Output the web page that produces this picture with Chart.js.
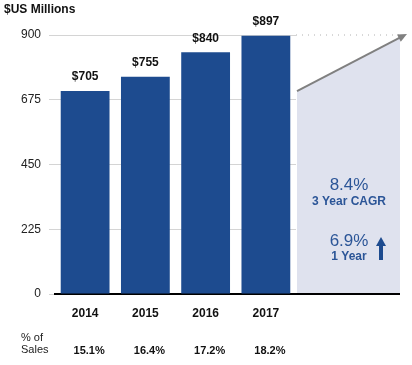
<!DOCTYPE html>
<html>
<head>
<meta charset="utf-8">
<style>
  html, body { margin: 0; padding: 0; background: #fff; }
  #wrap { width: 412px; height: 365px; }
</style>
<script src="https://cdn.jsdelivr.net/npm/chart.js@4/dist/chart.umd.min.js"></script>
</head>
<body>
<div id="wrap"><canvas id="salesChart" width="412" height="365"></canvas></div>
<script>
// --- Data ---
const years = ['2014', '2015', '2016', '2017'];
const salesMillions = [705, 755, 840, 897];
const pctOfSales = ['15.1%', '16.4%', '17.2%', '18.2%'];
const yTicks = [0, 225, 450, 675, 900];
const cagrText = ['8.4%', '3 Year CAGR'];
const oneYearText = ['6.9%', '1 Year'];

const FONT = 'Arial, "Liberation Sans", sans-serif';
const BAR_BLUE = '#1d4b8f';
const TEXT_BLUE = '#2b5597';

// draws title, bar value labels, % of sales row and the growth panel on the right
const extrasPlugin = {
    id: 'extras',
    afterDraw(chart) {
        const ctx = chart.ctx;
        const area = chart.chartArea;
        const y = chart.scales.y;
        const meta = chart.getDatasetMeta(0);

        ctx.save();

        // title
        ctx.fillStyle = '#111';
        ctx.font = `bold 12px ${FONT}`;
        ctx.textAlign = 'left';
        ctx.textBaseline = 'middle';
        ctx.fillText('$US Millions', 4, 10);

        // bar values
        ctx.textAlign = 'center';
        meta.data.forEach((bar, i) => {
            ctx.fillText('$' + salesMillions[i], bar.x, bar.y - 14);
        });

        // % of sales row
        ctx.font = `11px ${FONT}`;
        ctx.fillStyle = '#222';
        ctx.textAlign = 'left';
        ctx.fillText('% of', 21, 338);
        ctx.fillText('Sales', 21, 350);
        ctx.font = `bold 11px ${FONT}`;
        ctx.fillStyle = '#111';
        ctx.textAlign = 'center';
        meta.data.forEach((bar, i) => {
            ctx.fillText(pctOfSales[i], bar.x + 4, 351);
        });

        // growth panel
        const x0 = area.right + 1;
        const x1 = area.right + 104;
        const tipX = area.right + 111;
        const yStart = y.getPixelForValue(salesMillions[0]);
        const yTop = y.getPixelForValue(900);
        const yTip = yTop - 1;
        const slope = (yTip - yStart) / (tipX - x0);
        const yAtX1 = yStart + slope * (x1 - x0);

        ctx.fillStyle = '#dfe2ee';
        ctx.beginPath();
        ctx.moveTo(x0, area.bottom);
        ctx.lineTo(x0, yStart);
        ctx.lineTo(x1, yAtX1);
        ctx.lineTo(x1, area.bottom);
        ctx.closePath();
        ctx.fill();

        // dotted continuation of the 900 line
        ctx.strokeStyle = '#b0b0b0';
        ctx.lineWidth = 1;
        ctx.setLineDash([1, 5]);
        ctx.beginPath();
        ctx.moveTo(area.right, yTop);
        ctx.lineTo(tipX - 4, yTop);
        ctx.stroke();
        ctx.setLineDash([]);

        // grey arrow
        const ang = Math.atan2(yTip - yStart, tipX - x0);
        ctx.strokeStyle = '#808080';
        ctx.fillStyle = '#808080';
        ctx.lineWidth = 2;
        ctx.beginPath();
        ctx.moveTo(x0, yStart);
        ctx.lineTo(tipX - 7 * Math.cos(ang), yTip - 7 * Math.sin(ang));
        ctx.stroke();
        ctx.beginPath();
        ctx.moveTo(tipX, yTip);
        ctx.lineTo(tipX - 10 * Math.cos(ang - 0.42), yTip - 10 * Math.sin(ang - 0.42));
        ctx.lineTo(tipX - 10 * Math.cos(ang + 0.42), yTip - 10 * Math.sin(ang + 0.42));
        ctx.closePath();
        ctx.fill();

        // base line continuation
        ctx.strokeStyle = '#000';
        ctx.lineWidth = 2;
        ctx.beginPath();
        ctx.moveTo(area.right, area.bottom);
        ctx.lineTo(x1, area.bottom);
        ctx.stroke();

        // growth texts
        const cx = area.right + 53;
        ctx.fillStyle = TEXT_BLUE;
        ctx.textAlign = 'center';
        ctx.font = `17px ${FONT}`;
        ctx.fillText(cagrText[0], cx, 185);
        ctx.font = `bold 12px ${FONT}`;
        ctx.fillText(cagrText[1], cx, 202);
        ctx.font = `17px ${FONT}`;
        ctx.fillText(oneYearText[0], cx, 241);
        ctx.font = `bold 12px ${FONT}`;
        ctx.fillText(oneYearText[1], cx, 257);

        // blue up arrow
        const ax = area.right + 85;
        ctx.fillStyle = BAR_BLUE;
        ctx.fillRect(ax - 2, 245, 4, 15);
        ctx.beginPath();
        ctx.moveTo(ax, 237);
        ctx.lineTo(ax - 5, 246);
        ctx.lineTo(ax + 5, 246);
        ctx.closePath();
        ctx.fill();

        ctx.restore();
    }
};

const ctx = document.getElementById('salesChart').getContext('2d');

new Chart(ctx, {
    type: 'bar',
    data: {
        labels: years,
        datasets: [{
            label: 'Sales',
            data: salesMillions,
            backgroundColor: BAR_BLUE,
            borderWidth: 0,
            barPercentage: 0.81,
            categoryPercentage: 1
        }]
    },
    options: {
        responsive: false,
        animation: false,
        layout: {
            padding: { top: 35, right: 116, left: 0, bottom: 0 }
        },
        plugins: {
            legend: { display: false },
            tooltip: { enabled: false }
        },
        scales: {
            x: {
                grid: { display: false, drawTicks: false },
                border: { display: true, color: '#000', width: 2 },
                ticks: {
                    color: '#111',
                    padding: 12,
                    font: { family: FONT, size: 12, weight: 'bold' }
                },
                afterFit(scale) { scale.height = 71; }
            },
            y: {
                min: 0,
                max: 900,
                afterBuildTicks(scale) {
                    scale.ticks = yTicks.map(v => ({ value: v }));
                },
                grid: {
                    color: '#d4d4d4',
                    tickLength: 6
                },
                border: { display: false },
                ticks: {
                    color: '#222',
                    padding: 8,
                    font: { family: FONT, size: 12 }
                },
                afterFit(scale) { scale.width = 55; }
            }
        }
    },
    plugins: [extrasPlugin]
});
</script>
</body>
</html>
